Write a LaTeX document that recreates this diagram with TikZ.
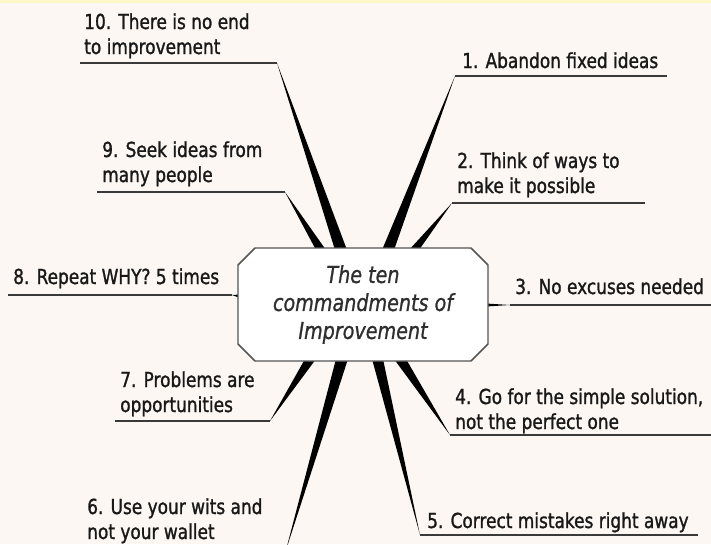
\documentclass[tikz,border=0pt]{standalone}
\usepackage{fontspec}
\setmainfont{DejaVu Sans}[FakeStretch=0.82,
  UprightFeatures={FakeBold=1.2}, ItalicFeatures={FakeBold=1.0}]
\definecolor{bg}{HTML}{FCF7F2}
\definecolor{strip}{HTML}{FFF8C6}
\definecolor{ink}{HTML}{181818}
\definecolor{lineclr}{HTML}{3A3A3A}
\definecolor{titleclr}{HTML}{2E2E2E}
\definecolor{boxline}{HTML}{555555}
\tikzset{
  lab/.style={anchor=base west, inner sep=0pt, align=left, text=ink,
              font=\fontsize{15.5}{18.75}\selectfont},
  uline/.style={draw=lineclr, line width=1.1pt},
  spokefill/.style={fill=black},
  hubbox/.style={draw=boxline, fill=white, line width=1.1pt},
  titletext/.style={inner sep=0pt, align=center, text=titleclr,
              font=\itshape\fontsize{17.5}{21}\selectfont}
}
\begin{document}
\begin{tikzpicture}[x=0.75pt,y=-0.75pt]
\clip (0,0) rectangle (711,544);
\fill[bg] (0,0) rectangle (711,544);
\fill[strip] (0,0) rectangle (711,3);
% hub anchor points
\coordinate (b10l) at (335,250); \coordinate (b10r) at (347,250);
\coordinate (b9l) at (316,250);  \coordinate (b9r) at (326,250);
\coordinate (b1l) at (382,250);  \coordinate (b1r) at (394,250);
\coordinate (b2l) at (409,250);  \coordinate (b2r) at (419,250);
\coordinate (b7l) at (305,359);  \coordinate (b7r) at (316,359);
\coordinate (b6l) at (336,359);  \coordinate (b6r) at (348,359);
\coordinate (b5l) at (372,359);  \coordinate (b5r) at (383,359);
\coordinate (b4l) at (394,359);  \coordinate (b4r) at (406,359);
\coordinate (b8t) at (240,294.5); \coordinate (b8b) at (240,298);
\coordinate (b3t) at (486,303.5); \coordinate (b3b) at (486,306.5);
% labels (anchor = baseline of last line)
\node[lab] (l10) at (84,54) {10. There is no end\\to improvement};
\node[lab] (l9) at (102,182) {9. Seek ideas from\\many people};
\node[lab] (l1) at (462,68) {1. Abandon fixed ideas};
\node[lab] (l2) at (457,193) {2. Think of ways to\\make it possible};
\node[lab] (l8) at (13,284) {8. Repeat WHY? 5 times};
\node[lab] (l3) at (515,294) {3. No excuses needed};
\node[lab] (l7) at (120,412) {7. Problems are\\opportunities};
\node[lab] (l4) at (455,429) {4. Go for the simple solution,\\not the perfect one};
\node[lab] (l5) at (427,528) {5. Correct mistakes right away};
\node[lab] (l6) at (87,539) {6. Use your wits and\\not your wallet};
% underline end points
\coordinate (u10a) at (80,63);   \coordinate (u10b) at (277,63);
\coordinate (u9a) at (97,192);   \coordinate (u9b) at (285,192);
\coordinate (u1a) at (455,76);   \coordinate (u1b) at (667,76);
\coordinate (u2a) at (452,203);  \coordinate (u2b) at (645,203);
\coordinate (u8a) at (8,295);    \coordinate (u8b) at (232,295);
\coordinate (u3a) at (510,305);  \coordinate (u3b) at (711,305);
\coordinate (u7a) at (115,421);  \coordinate (u7b) at (270,421);
\coordinate (u4a) at (450,435);  \coordinate (u4b) at (711,435);
\coordinate (u5a) at (420,535);  \coordinate (u5b) at (698,535);
\coordinate (u6a) at (80,550);   \coordinate (u6b) at (286,550);
\foreach \p in {10,9,1,2,8,3,7,4,5,6}{\draw[uline] (u\p a) -- (u\p b);}
% spokes (wedges)
\fill[spokefill] (u10b) -- (b10l) -- (b10r) -- cycle;
\fill[spokefill] (u9b) -- (b9l) -- (b9r) -- cycle;
\fill[spokefill] (u1a) -- (b1l) -- (b1r) -- cycle;
\fill[spokefill] (u2a) -- (b2l) -- (b2r) -- cycle;
\fill[spokefill] (u8b) -- (b8t) -- (b8b) -- cycle;
\fill[spokefill] (u3a) -- (b3t) -- (b3b) -- cycle;
\fill[spokefill] (u7b) -- (b7l) -- (b7r) -- cycle;
\fill[spokefill] (u4a) -- (b4l) -- (b4r) -- cycle;
\fill[spokefill] (u5a) -- (b5l) -- (b5r) -- cycle;
\fill[spokefill] (u6b) -- (b6l) -- (b6r) -- cycle;
% hub box
\draw[hubbox] (255,248) -- (471,248) -- (488,265) -- (488,344) -- (471,361)
  -- (255,361) -- (238,344) -- (238,265) -- cycle;
\node[titletext] (hub) at (363,304.5) {The ten\\commandments of\\Improvement};
\end{tikzpicture}
\end{document}
